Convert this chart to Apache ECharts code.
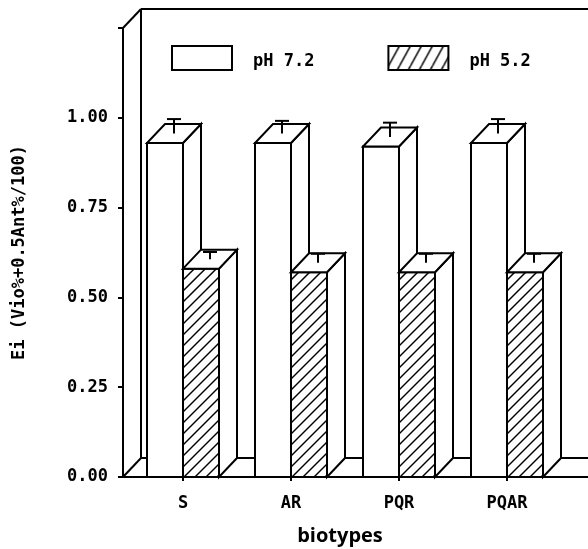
<!DOCTYPE html>
<html>
<head>
<meta charset="utf-8">
<script src="https://cdn.jsdelivr.net/npm/echarts@6/dist/echarts.min.js"></script>
<style>
  html, body { margin: 0; padding: 0; background: #fff; }
  #chart { width: 588px; height: 549px; }
</style>
</head>
<body>
<div id="chart"></div>
<script>
// Biotypes on the category axis
const categories = ['S', 'AR', 'PQR', 'PQAR'];
// Ei at pH 7.2 and its error
const ph72 = [0.93, 0.93, 0.92, 0.93];
const ph72Err = [0.04, 0.035, 0.04, 0.04];
// Ei at pH 5.2 and its error
const ph52 = [0.58, 0.57, 0.57, 0.57];
const ph52Err = [0.02, 0.025, 0.025, 0.025];
// Value axis
const yMin = 0;
const yMax = 1.25;
const yStep = 0.25;
const yLabelTop = 1.0;

// Drawing constants for the pseudo-3D boxes
const DX = 18;          // depth offset to the right
const DY = 19;          // depth offset upwards
const LW = 2;           // outline width
const BAR_FRAC = 1 / 3; // each bar takes a third of its category band
const HATCH_GAP = 11;   // vertical distance between hatch lines
const Y_AXIS_OFFSET = 6;
const MONO = '"DejaVu Sans Mono", "Liberation Mono", monospace';
const FS = 17;

function hatchPattern(w, h) {
  const c = document.createElement('canvas');
  c.width = w; c.height = h;
  const g = c.getContext('2d');
  g.fillStyle = '#fff';
  g.fillRect(0, 0, w, h);
  g.strokeStyle = '#000';
  g.lineWidth = 1.5;
  for (let k = -1; k <= 1; k++) {
    g.beginPath();
    g.moveTo(k * w, h);
    g.lineTo(k * w + w, 0);
    g.stroke();
  }
  return { image: c, repeat: 'repeat' };
}
const legendHatch = hatchPattern(11, 20);

function hatchLines(x0, x1, yt, yb) {
  const w = x1 - x0;
  const out = [];
  for (let c = yb + w - 2; c > yt; c -= HATCH_GAP) {
    const xs = c <= yb ? x0 : x0 + (c - yb);
    const xe = c - w >= yt ? x1 : x0 + (c - yt);
    if (xe - xs < 0.5) continue;
    out.push({
      type: 'line',
      shape: { x1: xs, y1: c - (xs - x0), x2: xe, y2: c - (xe - x0) },
      style: { stroke: '#000', lineWidth: 1.5 }
    });
  }
  return out;
}

function boxRenderer(side, hatched) {
  return function (params, api) {
    const i = api.value(0);
    const v = api.value(1);
    const e = api.value(2);
    const band = api.size([1, 0])[0];
    const w = band * BAR_FRAC;
    const base = api.coord([i, 0]);
    const top = api.coord([i, v]);
    const errTop = api.coord([i, v + e]);
    const cx = base[0];
    const x0 = side < 0 ? cx - w : cx;
    const x1 = x0 + w;
    const yb = base[1];
    const yt = top[1];
    const stroke = { stroke: '#000', lineWidth: LW, lineJoin: 'miter' };
    const children = [];
    children.push({
      type: 'rect',
      shape: { x: x0, y: yt, width: w, height: yb - yt },
      style: { fill: '#fff' }
    });
    if (hatched) {
      hatchLines(x0, x1, yt, yb).forEach(l => children.push(l));
    }
    children.push({
      type: 'rect',
      shape: { x: x0, y: yt, width: w, height: yb - yt },
      style: Object.assign({ fill: null }, stroke)
    });
    // right side face
    children.push({
      type: 'polygon',
      shape: { points: [[x1, yt], [x1 + DX, yt - DY], [x1 + DX, yb - DY], [x1, yb]] },
      style: Object.assign({ fill: '#fff' }, stroke)
    });
    // top face
    children.push({
      type: 'polygon',
      shape: { points: [[x0, yt], [x1, yt], [x1 + DX, yt - DY], [x0 + DX, yt - DY]] },
      style: Object.assign({ fill: '#fff' }, stroke)
    });
    // error bar rising from the centre of the top face
    const ex = (x0 + x1) / 2 + DX / 2;
    const ey0 = yt - DY / 2;
    const ey1 = errTop[1] - DY / 2;
    children.push({
      type: 'line',
      shape: { x1: ex, y1: ey0, x2: ex, y2: ey1 },
      style: { stroke: '#000', lineWidth: LW }
    });
    children.push({
      type: 'line',
      shape: { x1: ex - 7, y1: ey1, x2: ex + 7, y2: ey1 },
      style: { stroke: '#000', lineWidth: LW }
    });
    return { type: 'group', children: children };
  };
}

// Back wall and floor of the box frame
function frameRenderer(params, api) {
  const cs = params.coordSys;
  const ax = cs.x - Y_AXIS_OFFSET;
  const y0 = api.coord([0, yMin])[1];
  const yT = api.coord([0, yMax])[1];
  const right = api.getWidth();
  const st = { stroke: '#000', lineWidth: LW };
  const seg = (a, b) => ({ type: 'line', shape: { x1: a[0], y1: a[1], x2: b[0], y2: b[1] }, style: st });
  return {
    type: 'group',
    children: [
      seg([ax, yT], [ax + DX, yT - DY]),
      seg([ax + DX, yT - DY], [right, yT - DY]),
      seg([ax + DX, yT - DY], [ax + DX, y0 - DY]),
      seg([ax + DX, y0 - DY], [right, y0 - DY]),
      seg([ax, y0], [ax + DX, y0 - DY]),
      seg([ax, y0], [right, y0])
    ]
  };
}

const chart = echarts.init(document.getElementById('chart'), null, { renderer: 'canvas' });

chart.setOption({
  backgroundColor: '#ffffff',
  animation: false,
  grid: { left: 129, right: 27, top: 28, bottom: 72, containLabel: false, outerBoundsMode: 'none' },
  legend: {
    left: 171,
    top: 45,
    padding: 0,
    icon: 'rect',
    itemWidth: 60,
    itemHeight: 24,
    itemGap: 73,
    selectedMode: false,
    itemStyle: { borderColor: '#000', borderWidth: 2 },
    formatter: '{t|{name}}',
    textStyle: {
      fontFamily: MONO, fontWeight: 'bold', fontSize: FS, color: '#000', padding: [0, 0, 0, 16],
      rich: { t: { fontFamily: MONO, fontWeight: 'bold', fontSize: FS, color: '#000', padding: [7, 0, 0, 0] } }
    },
    data: [
      { name: 'pH 7.2', itemStyle: { color: '#fff' } },
      { name: 'pH 5.2', itemStyle: { color: legendHatch } }
    ]
  },
  xAxis: {
    type: 'category',
    data: categories,
    boundaryGap: true,
    axisLine: { show: false },
    axisTick: { show: true, alignWithLabel: true, length: 4, lineStyle: { color: '#000', width: 2 } },
    axisLabel: { margin: 18, fontFamily: MONO, fontWeight: 'bold', fontSize: FS, color: '#000' },
    splitLine: { show: false },
    name: 'biotypes',
    nameLocation: 'middle',
    nameGap: 49,
    nameTextStyle: { fontFamily: '"Open Sans", "Liberation Sans", sans-serif', fontWeight: 'bold', fontSize: 20, color: '#000', padding: [0, 10, 0, 0] }
  },
  yAxis: {
    type: 'value',
    min: yMin,
    max: yMax,
    interval: yStep,
    offset: Y_AXIS_OFFSET,
    axisLine: { show: true, lineStyle: { color: '#000', width: 2 } },
    axisTick: { show: true, length: 5, lineStyle: { color: '#000', width: 2 } },
    splitLine: { show: false },
    axisLabel: {
      margin: 15,
      fontFamily: MONO, fontWeight: 'bold', fontSize: FS, color: '#000',
      formatter: v => (v > yLabelTop + 1e-6 ? '' : v.toFixed(2))
    },
    name: 'Ei (Vio%+0.5Ant%/100)',
    nameLocation: 'middle',
    nameGap: 95,
    nameTextStyle: { fontFamily: MONO, fontWeight: 'bold', fontSize: FS, color: '#000' }
  },
  series: [
    {
      type: 'custom',
      name: 'frame',
      silent: true,
      clip: false,
      z: 1,
      renderItem: frameRenderer,
      data: [[0, 0]]
    },
    {
      type: 'custom',
      name: 'pH 7.2',
      silent: true,
      clip: false,
      z: 2,
      itemStyle: { color: '#fff', borderColor: '#000', borderWidth: 2 },
      renderItem: boxRenderer(-1, false),
      encode: { x: 0, y: 1 },
      data: categories.map((c, i) => [i, ph72[i], ph72Err[i]])
    },
    {
      type: 'custom',
      name: 'pH 5.2',
      silent: true,
      clip: false,
      z: 3,
      itemStyle: { color: legendHatch, borderColor: '#000', borderWidth: 2 },
      renderItem: boxRenderer(1, true),
      encode: { x: 0, y: 1 },
      data: categories.map((c, i) => [i, ph52[i], ph52Err[i]])
    }
  ]
});
</script>
</body>
</html>
